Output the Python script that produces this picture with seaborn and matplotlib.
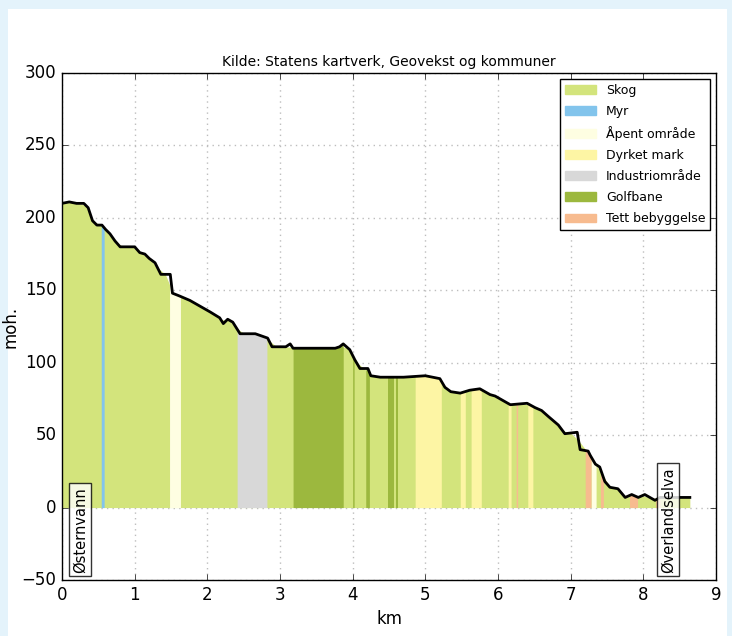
import numpy as np
import pandas as pd
import matplotlib
matplotlib.use("Agg")
import matplotlib.pyplot as plt
import seaborn as sns
from matplotlib.patches import Patch, Rectangle

# ---- data ----
dist_km = [0.00, 0.10, 0.20, 0.30, 0.36, 0.42, 0.48, 0.55, 0.60, 0.66, 0.73, 0.80, 0.90, 1.00, 1.07,
           1.14, 1.20, 1.28, 1.32, 1.36, 1.49, 1.52, 1.62, 1.76, 1.90, 2.04, 2.17, 2.22, 2.28, 2.35,
           2.40, 2.45, 2.66, 2.83, 2.89, 3.08, 3.14, 3.18, 3.76, 3.82, 3.87, 3.96, 4.03, 4.10, 4.21,
           4.25, 4.38, 4.70, 5.00, 5.20, 5.27, 5.35, 5.48, 5.61, 5.75, 5.89, 5.96, 6.10, 6.17, 6.40,
           6.51, 6.60, 6.69, 6.83, 6.92, 7.09, 7.13, 7.24, 7.27, 7.34, 7.40, 7.47, 7.54, 7.65, 7.75,
           7.84, 7.93, 8.02, 8.09, 8.16, 8.23, 8.40, 8.64]
elev_m = [210, 211, 210, 210, 207, 198, 195, 195, 192, 189, 184, 180, 180, 180, 176,
          175, 172, 169, 165, 161, 161, 148, 146, 143, 139, 135, 131, 127, 130, 128,
          124, 120, 120, 117, 111, 111, 113, 110, 110, 111, 113, 109, 102, 96, 96,
          91, 90, 90, 91, 89, 83, 80, 79, 81, 82, 78, 77, 73, 71, 72,
          69, 67, 63, 57, 51, 52, 40, 39, 36, 30, 28, 18, 14, 13, 7,
          9, 7, 9, 7, 5, 7, 7, 7]

landuse_names = ["Skog", "Myr", "Åpent område", "Dyrket mark", "Industriområde", "Golfbane", "Tett bebyggelse"]
landuse_colors = ["#d3e47c", "#82c4ec", "#fefee2", "#fdf5a4", "#d8d8d8", "#9cb83e", "#f7bb8f"]

skog_segments = [(0.00, 8.64)]
myr_segments = [(0.54, 0.58)]
apent_segments = [(1.48, 1.63), (7.28, 7.35)]
dyrket_segments = [(4.86, 5.22), (5.48, 5.55), (5.63, 5.77), (6.14, 6.18), (6.41, 6.48)]
industri_segments = [(2.41, 2.82)]
golf_segments = [(3.18, 3.87), (4.00, 4.02), (4.18, 4.23), (4.48, 4.57), (4.59, 4.63)]
tett_segments = [(6.25, 6.27), (7.20, 7.28), (7.41, 7.45), (7.81, 7.92), (8.17, 8.23)]

segments = [skog_segments, myr_segments, apent_segments, dyrket_segments,
            industri_segments, golf_segments, tett_segments]

annot_names = ["Østernvann", "Øverlandselva"]
annot_x = [0.25, 8.34]

title = "Kilde: Statens kartverk, Geovekst og kommuner"

# ---- plot ----
plt.style.use("classic")
plt.rcParams["font.family"] = ["DejaVu Sans"]

fig = plt.figure(figsize=(7.32, 6.36), dpi=100, facecolor="#e4f3fb")
fig.patches.append(Rectangle((8 / 732, 0), (727 - 8) / 732, 1 - 9 / 636,
                             transform=fig.transFigure, facecolor="white",
                             edgecolor="none", zorder=-10))
ax = fig.add_axes([62 / 732, 56 / 636, 654 / 732, 507 / 636])
ax.set_zorder(1)
ax.set_facecolor("white")

df = pd.DataFrame({"km": dist_km, "moh": elev_m})
d = np.array(dist_km)
e = np.array(elev_m)
for segs, col in zip(segments, landuse_colors):
    for a, b in segs:
        xs = np.linspace(a, b, 80)
        ys = np.interp(xs, d, e)
        ax.fill_between(xs, 0, ys, color=col, linewidth=0, zorder=2)

sns.lineplot(data=df, x="km", y="moh", ax=ax, color="black", linewidth=2, zorder=4)

for name, xv in zip(annot_names, annot_x):
    ax.text(xv, -45, name, rotation=90, ha="center", va="bottom", fontsize=10.5,
            bbox=dict(facecolor="white", edgecolor="black", boxstyle="square,pad=0.25", alpha=0.8),
            zorder=5)

ax.set_xlim(0, 9)
ax.set_ylim(-50, 300)
ax.set_xticks(range(0, 10))
ax.set_yticks(range(-50, 301, 50))
ax.tick_params(labelsize=12, direction="in", top=True, right=True)
ax.grid(True, color="#bdbdbd", linestyle=":", linewidth=1)
ax.set_axisbelow(True)
ax.set_xlabel("km", fontsize=12)
ax.set_ylabel("moh.", fontsize=12)
ax.yaxis.set_label_coords(-0.065, 0.5)
ax.set_title(title, fontsize=10)

handles = [Patch(facecolor=c, edgecolor=c, label=n) for n, c in zip(landuse_names, landuse_colors)]
leg = ax.legend(handles=handles, loc="upper right", fontsize=9, frameon=True,
                fancybox=False, borderaxespad=0.45, handlelength=2.5, labelspacing=0.65)
leg.get_frame().set_edgecolor("black")

fig.savefig("out.png", dpi=100, facecolor=fig.get_facecolor())
